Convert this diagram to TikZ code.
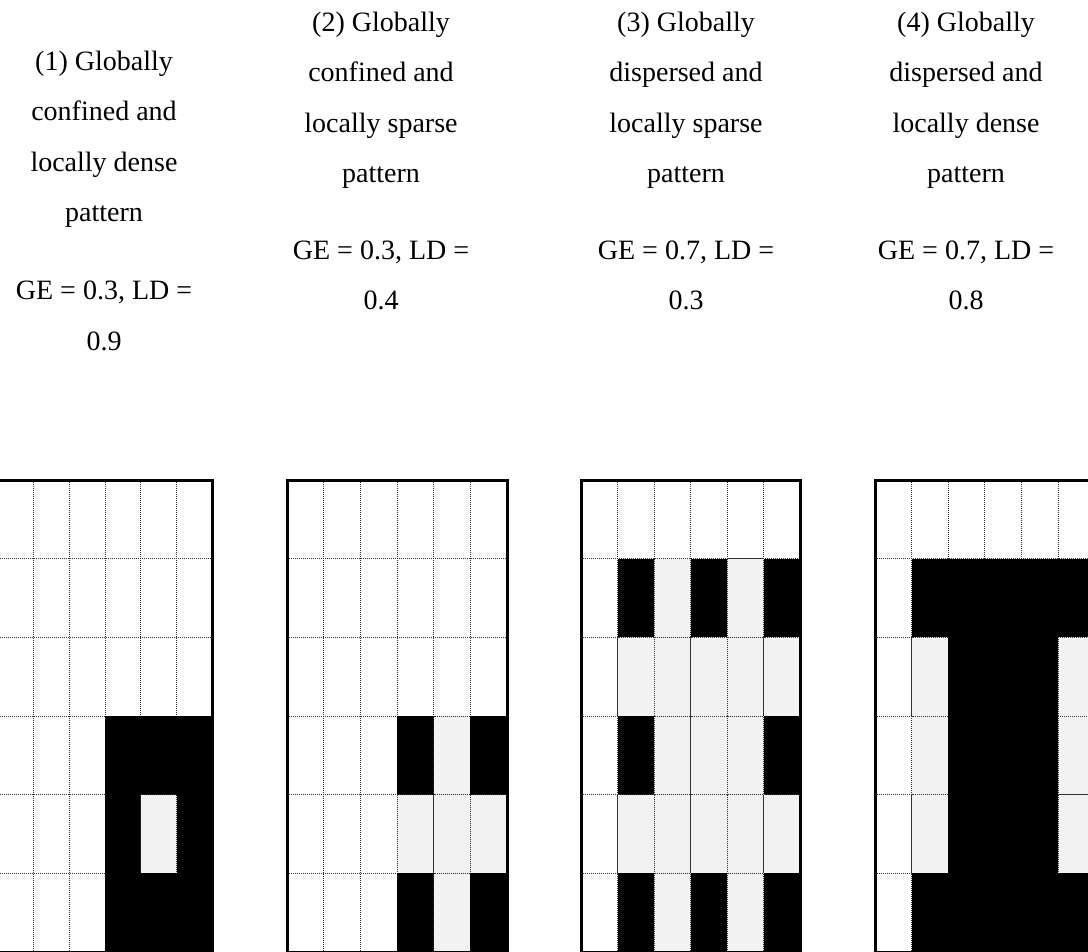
\documentclass[tikz,border=0pt]{standalone}
\usepackage{fontspec}
\setmainfont{Liberation Serif}
\definecolor{cellgray}{RGB}{242,242,242}
\tikzset{
  captxt/.style={anchor=base, inner sep=0pt, font=\fontsize{28}{34}\selectfont},
  gridline/.style={draw=black!80, line width=1pt, dash pattern=on 1pt off 1pt},
  frame/.style={draw=black, line width=3pt},
  darkcell/.style={fill=black},
  lightcell/.style={fill=cellgray, gridline},
}
\newcommand\drawgrid[3]{%
  \foreach \i in {1,...,5}{
    \draw[gridline] ({#1+\i*#2},480) -- ({#1+\i*#2},952);
    \draw[gridline] (#1,{480+\i*78.667}) -- ({#1+6*#2},{480+\i*78.667});
  }
  \foreach \row [count=\r] in {#3}{
    \foreach \c [count=\k] in \row {
      \pgfmathsetmacro\xa{#1+(\k-1)*#2}
      \pgfmathsetmacro\ya{480+(\r-1)*78.667}
      \ifcase\c\or
        \fill[darkcell] (\xa,\ya) rectangle ++(#2,78.667);
      \or
        \filldraw[lightcell] (\xa,\ya) rectangle ++(#2,78.667);
      \fi
    }
  }
  \draw[frame] (#1,480) rectangle ({#1+6*#2},952);
}
\begin{document}
\begin{tikzpicture}[x=1pt,y=-1pt]
\useasboundingbox (0,0) rectangle (1088,952);
\fill[white] (0,0) rectangle (1088,952);
\clip (0,0) rectangle (1088,952);

% captions
\node[captxt] (t1a) at (104,71) {(1) Globally};
\node[captxt] (t1b) at (104,121) {confined and};
\node[captxt] (t1c) at (104,172) {locally dense};
\node[captxt] (t1d) at (104,222) {pattern};
\node[captxt] (v1a) at (104,300) {GE = 0.3, LD =};
\node[captxt] (v1b) at (104,350) {0.9};

\node[captxt] (t2a) at (381,32) {(2) Globally};
\node[captxt] (t2b) at (381,82) {confined and};
\node[captxt] (t2c) at (381,133) {locally sparse};
\node[captxt] (t2d) at (381,183) {pattern};
\node[captxt] (v2a) at (381,260) {GE = 0.3, LD =};
\node[captxt] (v2b) at (381,310) {0.4};

\node[captxt] (t3a) at (686,32) {(3) Globally};
\node[captxt] (t3b) at (686,82) {dispersed and};
\node[captxt] (t3c) at (686,133) {locally sparse};
\node[captxt] (t3d) at (686,183) {pattern};
\node[captxt] (v3a) at (686,260) {GE = 0.7, LD =};
\node[captxt] (v3b) at (686,310) {0.3};

\node[captxt] (t4a) at (966,32) {(4) Globally};
\node[captxt] (t4b) at (966,82) {dispersed and};
\node[captxt] (t4c) at (966,133) {locally dense};
\node[captxt] (t4d) at (966,183) {pattern};
\node[captxt] (v4a) at (966,260) {GE = 0.7, LD =};
\node[captxt] (v4b) at (966,310) {0.8};

% grids
\drawgrid{-2}{35.7}{{0,0,0,0,0,0},{0,0,0,0,0,0},{0,0,0,0,0,0},{0,0,0,1,1,1},{0,0,0,1,2,1},{0,0,0,1,1,1}}
\drawgrid{287}{36.67}{{0,0,0,0,0,0},{0,0,0,0,0,0},{0,0,0,0,0,0},{0,0,0,1,2,1},{0,0,0,2,2,2},{0,0,0,1,2,1}}
\drawgrid{581}{36.5}{{0,0,0,0,0,0},{0,1,2,1,2,1},{0,2,2,2,2,2},{0,1,2,2,2,1},{0,2,2,2,2,2},{0,1,2,1,2,1}}
\drawgrid{875}{36.6}{{0,0,0,0,0,0},{0,1,1,1,1,1},{0,2,1,1,1,2},{0,2,1,1,1,2},{0,2,1,1,1,2},{0,1,1,1,1,1}}
\end{tikzpicture}
\end{document}
